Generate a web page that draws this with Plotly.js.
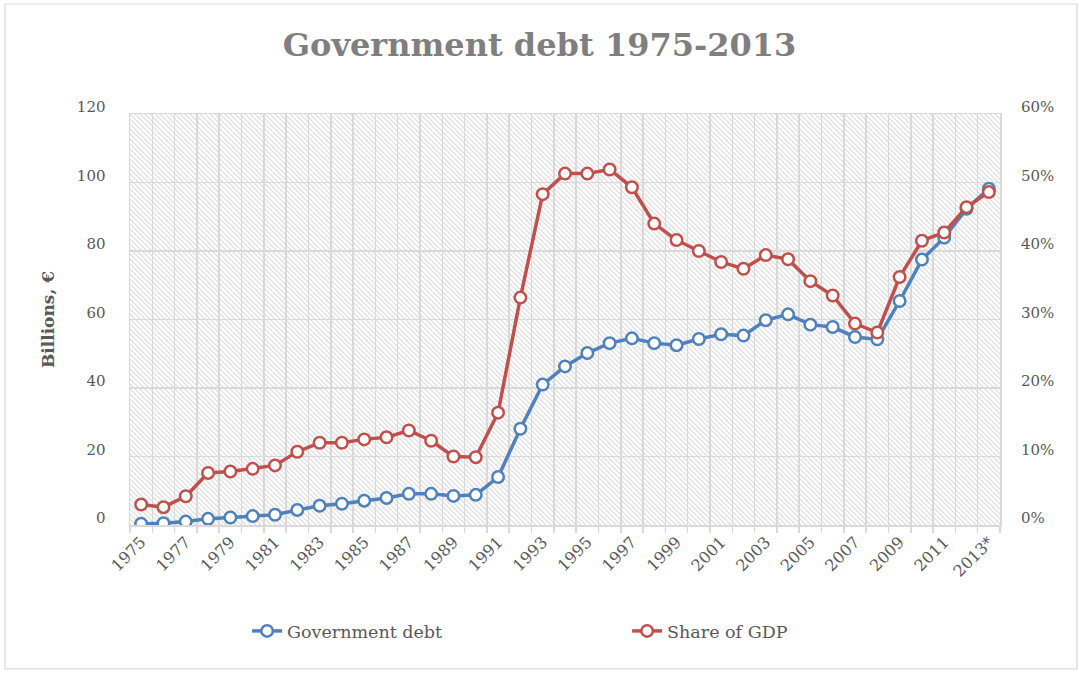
<!DOCTYPE html>
<html>
<head>
<meta charset="utf-8">
<script src="https://cdn.plot.ly/plotly-3.0.1.min.js"></script>
<style>html,body{margin:0;padding:0;background:#fff;}#chart{width:1079px;height:673px;}</style>
</head>
<body>
<div id="chart"></div>
<script>
// Data
var years = [1975,1976,1977,1978,1979,1980,1981,1982,1983,1984,1985,1986,1987,1988,1989,1990,1991,1992,1993,1994,1995,1996,1997,1998,1999,2000,2001,2002,2003,2004,2005,2006,2007,2008,2009,2010,2011,2012,2013];
var governmentDebt = [0.4,0.5,1.0,1.8,2.2,2.6,3.0,4.4,5.6,6.2,7.1,7.9,9.1,9.1,8.5,8.8,14.0,28.1,41.0,46.3,50.2,53.1,54.5,53.1,52.5,54.3,55.7,55.3,59.8,61.5,58.5,57.8,54.9,54.2,65.4,77.5,83.9,92.3,98.2];
var shareOfGDP = [3.0,2.6,4.2,7.6,7.8,8.2,8.7,10.7,12.0,12.0,12.5,12.8,13.8,12.3,10.0,9.9,16.4,33.2,48.3,51.3,51.3,51.9,49.3,44.0,41.6,40.0,38.4,37.4,39.4,38.8,35.6,33.5,29.4,28.1,36.2,41.5,42.7,46.4,48.6];
var tickYears = [1975,1977,1979,1981,1983,1985,1987,1989,1991,1993,1995,1997,1999,2001,2003,2005,2007,2009,2011,2013];
var tickLabels = ["1975","1977","1979","1981","1983","1985","1987","1989","1991","1993","1995","1997","1999","2001","2003","2005","2007","2009","2011","2013*"];
var seriesNames = ["Government debt","Share of GDP"];

var FONT = "'DejaVu Serif', Georgia, serif";
var GRID = "#d9d9d9";
var TXT = "#595959";

var hatchSvg = '<svg xmlns="http://www.w3.org/2000/svg" width="870" height="411">' +
  '<defs><pattern id="h" width="5" height="5" patternUnits="userSpaceOnUse">' +
  '<rect width="5" height="5" fill="#ffffff"/>' +
  '<path d="M-1,-1 L6,6 M-1,4 L1,6 M4,-1 L6,1" stroke="#dcdcdc" stroke-width="1.2"/>' +
  '</pattern></defs><rect width="870" height="411" fill="url(#h)"/></svg>';
var hatchUri = 'data:image/svg+xml;charset=utf-8,' + encodeURIComponent(hatchSvg);

var traces = [
  {
    x: years, y: governmentDebt, name: seriesNames[0], type: 'scatter', mode: 'lines+markers',
    yaxis: 'y',
    line: {color: '#4f81bd', width: 3.5},
    marker: {symbol: 'circle', size: 11.5, color: '#ffffff', line: {color: '#4f81bd', width: 2.5}}
  },
  {
    x: years, y: shareOfGDP, name: seriesNames[1], type: 'scatter', mode: 'lines+markers',
    yaxis: 'y2',
    line: {color: '#c0504d', width: 3.5},
    marker: {symbol: 'circle', size: 11.5, color: '#ffffff', line: {color: '#c0504d', width: 2.5}}
  }
];

var layout = {
  width: 1079, height: 673,
  margin: {l: 130, r: 79, t: 114, b: 148},
  paper_bgcolor: '#ffffff',
  plot_bgcolor: 'rgba(0,0,0,0)',
  font: {family: FONT, color: TXT, size: 15},
  title: {
    text: 'Government debt 1975-2013',
    font: {family: FONT, size: 32, color: '#7f7f7f', weight: 'bold'},
    x: 0.5, xref: 'container', xanchor: 'center',
    y: 0.933, yref: 'container', yanchor: 'middle'
  },
  showlegend: true,
  legend: {
    orientation: 'h', x: 0.1346, xanchor: 'left', y: -0.258, yanchor: 'middle',
    entrywidth: 335, entrywidthmode: 'pixels',
    font: {family: FONT, size: 17.5, color: TXT},
    bgcolor: 'rgba(0,0,0,0)'
  },
  xaxis: {
    type: 'linear', range: [1974.5, 2013.5], fixedrange: true,
    tickmode: 'array', tickvals: tickYears, ticktext: tickLabels,
    tickangle: -45, showgrid: false, zeroline: false, ticks: '',
    tickfont: {family: FONT, size: 16, color: TXT},
    showline: true, mirror: true, linecolor: GRID, linewidth: 1.5,
    minor: {tickmode: 'linear', tick0: 1974.5, dtick: 1, showgrid: true, gridcolor: GRID, gridwidth: 1.5,
            ticks: 'outside', ticklen: 6, tickcolor: GRID, tickwidth: 1.5}
  },
  yaxis: {
    range: [0, 120], dtick: 20, tick0: 0, fixedrange: true,
    showgrid: true, gridcolor: GRID, gridwidth: 1.5, zeroline: false,
    showline: true, mirror: true, linecolor: GRID, linewidth: 1.5,
    ticks: '', ticklabelstandoff: 20, ticklabelshift: -7,
    tickfont: {family: FONT, size: 15, color: TXT},
    title: {text: 'Billions, €', standoff: 18, font: {family: FONT, size: 17, color: TXT, weight: 'bold'}}
  },
  yaxis2: {
    overlaying: 'y', side: 'right', range: [0, 60], dtick: 10, tick0: 0, fixedrange: true,
    ticksuffix: '%', showgrid: false, zeroline: false, ticks: '',
    ticklabelstandoff: 20, ticklabelshift: -7,
    tickfont: {family: FONT, size: 15, color: TXT}
  },
  images: [{
    source: hatchUri, xref: 'paper', yref: 'paper', x: 0, y: 1, sizex: 1, sizey: 1,
    xanchor: 'left', yanchor: 'top', sizing: 'stretch', layer: 'below'
  }],
  shapes: [{
    type: 'rect', xref: 'paper', yref: 'paper',
    x0: -0.1437, x1: 1.0885, y0: -0.350, y1: 1.2676,
    line: {color: GRID, width: 1.2}, fillcolor: 'rgba(0,0,0,0)', layer: 'below'
  }]
};

Plotly.newPlot('chart', traces, layout, {displayModeBar: false, staticPlot: true});
</script>
</body>
</html>
